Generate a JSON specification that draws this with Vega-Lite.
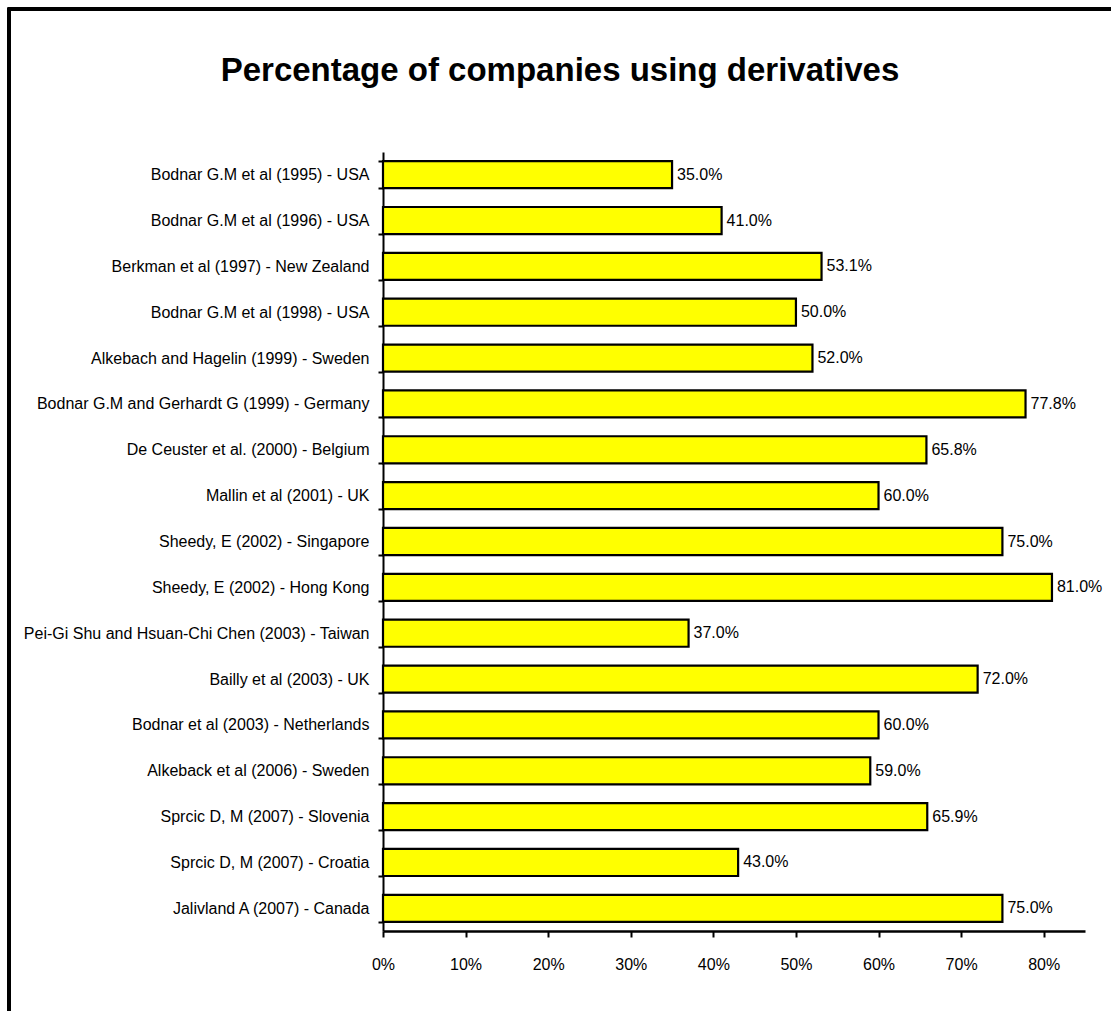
{
  "$schema": "https://vega.github.io/schema/vega-lite/v6.json",
  "width": 702,
  "height": 779,
  "autosize": {"type": "none"},
  "padding": {"left": 383, "top": 152, "right": 26, "bottom": 80},
  "background": "white",
  "title": {
    "text": "Percentage of companies using derivatives",
    "font": "Liberation Sans",
    "fontWeight": "bold",
    "fontSize": 33,
    "color": "black",
    "anchor": "middle",
    "frame": "group",
    "dx": -174,
    "baseline": "alphabetic",
    "offset": 0,
    "dy": 106
  },
  "data": {
    "values": [
      {"study": "Bodnar G.M et al (1995) - USA", "pct": 0.35},
      {"study": "Bodnar G.M et al (1996) - USA", "pct": 0.41},
      {"study": "Berkman et al (1997) - New Zealand", "pct": 0.531},
      {"study": "Bodnar G.M et al (1998) - USA", "pct": 0.50},
      {"study": "Alkebach and Hagelin (1999) - Sweden", "pct": 0.52},
      {"study": "Bodnar G.M and Gerhardt G (1999) - Germany", "pct": 0.778},
      {"study": "De Ceuster et al. (2000) - Belgium", "pct": 0.658},
      {"study": "Mallin et al (2001) - UK", "pct": 0.60},
      {"study": "Sheedy, E (2002) - Singapore", "pct": 0.75},
      {"study": "Sheedy, E (2002) - Hong Kong", "pct": 0.81},
      {"study": "Pei-Gi Shu and Hsuan-Chi Chen (2003) - Taiwan", "pct": 0.37},
      {"study": "Bailly et al (2003) - UK", "pct": 0.72},
      {"study": "Bodnar et al (2003) - Netherlands", "pct": 0.60},
      {"study": "Alkeback et al (2006) - Sweden", "pct": 0.59},
      {"study": "Sprcic D, M (2007) - Slovenia", "pct": 0.659},
      {"study": "Sprcic D, M (2007) - Croatia", "pct": 0.43},
      {"study": "Jalivland A (2007) - Canada", "pct": 0.75}
    ]
  },
  "encoding": {
    "y": {
      "field": "study",
      "type": "nominal",
      "sort": null,
      "scale": {"paddingInner": 0.41, "paddingOuter": 0.2},
      "axis": {
        "title": null,
        "tickBand": "extent",
        "domainColor": "black",
        "domainWidth": 2,
        "tickColor": "black",
        "tickWidth": 2,
        "tickSize": 5,
        "labelPadding": 9,
        "labelFont": "Liberation Sans",
        "labelFontSize": 16,
        "labelColor": "black",
        "labelLimit": 400
      }
    }
  },
  "layer": [
    {
      "mark": {
        "type": "rect",
        "fill": null,
        "stroke": "black",
        "strokeWidth": 2.5,
        "clip": false
      },
      "encoding": {
        "x": {"value": -374},
        "x2": {"value": 800},
        "y": {"value": -143},
        "y2": {"value": 900}
      }
    },
    {
      "mark": {"type": "bar", "fill": "#FFFF00", "stroke": "black", "strokeWidth": 2.2},
      "encoding": {
        "x": {
          "field": "pct",
          "type": "quantitative",
          "scale": {"domain": [0, 0.85], "nice": false},
          "axis": {
            "title": null,
            "values": [0, 0.1, 0.2, 0.3, 0.4, 0.5, 0.6, 0.7, 0.8],
            "format": ".0%",
            "grid": false,
            "labelFlush": false,
            "domainColor": "black",
            "domainWidth": 2.5,
            "tickColor": "black",
            "tickWidth": 2,
            "tickSize": 6,
            "labelPadding": 19,
            "labelFont": "Liberation Sans",
            "labelFontSize": 16,
            "labelColor": "black"
          }
        }
      }
    },
    {
      "mark": {
        "type": "text",
        "align": "left",
        "baseline": "middle",
        "dx": 5,
        "font": "Liberation Sans",
        "fontSize": 16,
        "color": "black"
      },
      "encoding": {
        "x": {"field": "pct", "type": "quantitative"},
        "text": {"field": "pct", "type": "quantitative", "format": ".1%"}
      }
    }
  ],
  "config": {"view": {"stroke": null}}
}
